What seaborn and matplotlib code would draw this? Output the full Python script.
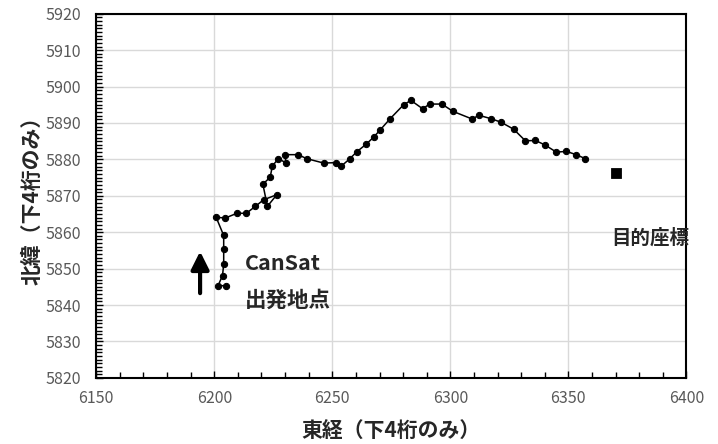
import matplotlib
matplotlib.use("Agg")
import matplotlib.pyplot as plt
from matplotlib.ticker import MultipleLocator
import seaborn as sns
import pandas as pd

sns.set_theme(style="white")
plt.rcParams['font.family'] = ['Noto Sans CJK JP', 'DejaVu Sans']

# CanSat track (last 4 digits of east / north coordinate)
east = [6204.9, 6201.6, 6203.5, 6204.0, 6204.0, 6204.0, 6200.8, 6204.7, 6209.6, 6213.6,
        6217.4, 6220.9, 6226.5, 6222.5, 6220.6, 6223.7, 6224.6, 6227.2, 6230.5, 6229.8,
        6235.5, 6239.2, 6246.3, 6251.5, 6253.7, 6257.3, 6260.4, 6264.4, 6267.5, 6270.3,
        6274.4, 6280.2, 6283.3, 6288.3, 6291.2, 6296.4, 6301.1, 6309.2, 6312.1, 6317.2,
        6321.5, 6326.8, 6331.8, 6336.0, 6340.0, 6344.9, 6349.2, 6353.3, 6357.2]
north = [5845.3, 5845.3, 5848.1, 5851.2, 5855.4, 5859.1, 5864.1, 5863.9, 5865.2, 5865.2,
         5867.1, 5868.9, 5870.3, 5867.1, 5873.2, 5875.1, 5878.2, 5880.2, 5879.0, 5881.3,
         5881.3, 5880.2, 5879.0, 5879.1, 5878.1, 5880.1, 5882.1, 5884.2, 5886.1, 5888.1,
         5891.1, 5895.0, 5896.2, 5893.9, 5895.2, 5895.2, 5893.2, 5891.1, 5892.1, 5891.2,
         5890.2, 5888.3, 5885.1, 5885.2, 5884.0, 5882.0, 5882.2, 5881.3, 5880.2]

target_east = [6370]
target_north = [5876.4]

track = pd.DataFrame({"east": east, "north": north})
target = pd.DataFrame({"east": target_east, "north": target_north})

fig = plt.figure(figsize=(7.18, 4.44), dpi=100)
ax = fig.add_axes([0.134, 0.149, 0.822, 0.820])

sns.lineplot(data=track, x="east", y="north", sort=False, estimator=None,
             color="black", linewidth=1.1, marker="o", markersize=4.5,
             markeredgecolor="black", ax=ax)
sns.scatterplot(data=target, x="east", y="north", marker="s", s=55,
                color="black", edgecolor="black", ax=ax)

ax.set_xlim(6150, 6400)
ax.set_ylim(5820, 5920)
ax.xaxis.set_major_locator(MultipleLocator(50))
ax.xaxis.set_minor_locator(MultipleLocator(10))
ax.yaxis.set_major_locator(MultipleLocator(10))
ax.yaxis.set_minor_locator(MultipleLocator(1))
ax.grid(True, which="major", color="#d9d9d9", linewidth=1.0)
ax.set_axisbelow(True)
ax.tick_params(which="both", direction="in", left=True, bottom=True,
               color="black", labelcolor="#595959", labelsize=11.5)
ax.tick_params(which="major", length=5, width=1)
ax.tick_params(which="minor", length=4, width=1)
ax.tick_params(axis="x", pad=9)
ax.tick_params(axis="y", pad=11)
for s in ax.spines.values():
    s.set_color("black")
    s.set_linewidth(1.5)

ax.set_xlabel("東経（下4桁のみ）", fontsize=15, fontweight="bold", labelpad=10)
ax.set_ylabel("北緯（下4桁のみ）", fontsize=15, fontweight="bold", labelpad=2)

ax.annotate("", xy=(6194, 5855.5), xytext=(6194, 5842.5),
            arrowprops=dict(arrowstyle="-|>,head_length=0.9,head_width=0.45",
                            color="black", lw=3))
ax.text(6213, 5851.3, "CanSat", fontsize=15.5, fontweight="bold", va="center")
ax.text(6213, 5841.4, "出発地点", fontsize=15.5, fontweight="bold", va="center")
ax.text(6368, 5858.5, "目的座標", fontsize=14, fontweight="bold", va="center")

fig.savefig("out.png", dpi=100)
